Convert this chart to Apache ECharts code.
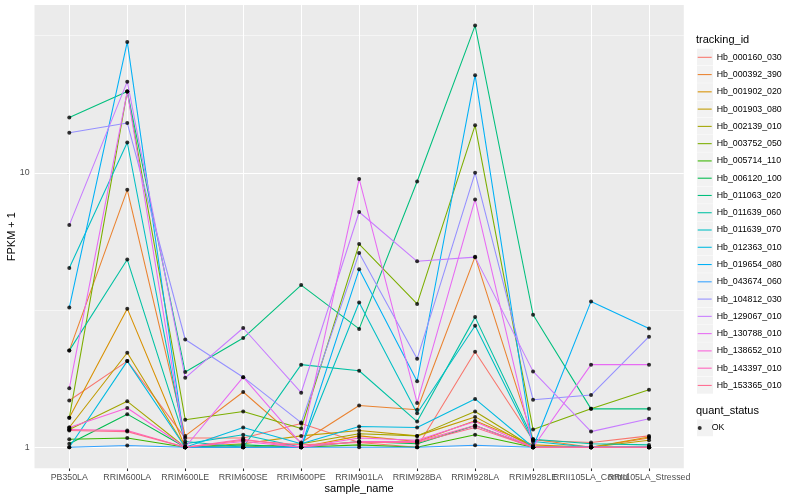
<!DOCTYPE html>
<html><head><meta charset="utf-8">
<script src="https://cdn.jsdelivr.net/npm/echarts@6.0.0/dist/echarts.min.js"></script>
<style>html,body{margin:0;padding:0;background:#fff}#c{width:800px;height:500px}</style>
</head><body><div id="c"></div><script>
const categories = ['PB350LA','RRIM600LA','RRIM600LE','RRIM600SE','RRIM600PE','RRIM901LA','RRIM928BA','RRIM928LA','RRIM928LE','RRII105LA_Control','RRII105LA_Stressed'];
const yTickValues = [1, 10];
const yTickLabels = ['1', '10'];

const hb_000160_030 = [1.48, 2.06, 1.08, 1.08, 1.22, 1.04, 1.0, 2.23, 1.06, 1.04, 1.10];
const hb_000392_390 = [2.25, 8.67, 1.10, 1.59, 1.04, 1.42, 1.37, 4.95, 1.07, 1.0, 1.08];
const hb_001902_020 = [1.28, 3.20, 1.0, 1.0, 1.0, 1.10, 1.05, 1.25, 1.02, 1.0, 1.09];
const hb_001903_080 = [1.18, 2.21, 1.0, 1.03, 1.10, 1.15, 1.10, 1.29, 1.0, 1.0, 1.06];
const hb_002139_010 = [1.16, 1.47, 1.0, 1.0, 1.03, 1.12, 1.10, 1.35, 1.0, 1.0, 1.0];
const hb_003752_050 = [1.28, 19.8, 1.26, 1.35, 1.17, 5.5, 3.33, 14.9, 1.16, 1.38, 1.62];
const hb_005714_110 = [1.07, 1.08, 1.0, 1.0, 1.0, 1.02, 1.0, 1.11, 1.0, 1.0, 1.0];
const hb_006120_100 = [1.03, 1.32, 1.0, 1.02, 1.0, 1.05, 1.03, 1.20, 1.0, 1.0, 1.0];
const hb_011063_020 = [15.9, 19.8, 1.88, 2.5, 3.9, 2.7, 9.3, 34.4, 3.04, 1.38, 1.38];
const hb_011639_060 = [2.25, 4.83, 1.05, 1.0, 2.0, 1.9, 1.24, 2.98, 1.07, 1.03, 1.02];
const hb_011639_070 = [4.5, 12.9, 1.03, 1.11, 1.0, 3.37, 1.33, 2.77, 1.05, 1.0, 1.0];
const hb_012363_010 = [1.0, 2.06, 1.0, 1.18, 1.03, 1.19, 1.18, 1.5, 1.0, 1.0, 1.0];
const hb_019654_080 = [3.23, 30.0, 1.0, 1.0, 1.0, 4.45, 1.74, 22.7, 1.0, 3.4, 2.71];
const hb_043674_060 = [1.0, 1.015, 1.0, 1.0, 1.0, 1.0, 1.0, 1.017, 1.0, 1.0, 1.0];
const hb_104812_030 = [14.0, 15.2, 2.47, 1.80, 1.23, 5.1, 2.10, 10.0, 1.49, 1.55, 2.53];
const hb_129067_010 = [6.45, 21.5, 1.79, 2.72, 1.58, 7.2, 4.76, 4.93, 1.89, 1.14, 1.27];
const hb_130788_010 = [1.64, 19.8, 1.0, 1.8, 1.03, 9.5, 1.45, 8.0, 1.0, 2.0, 2.0];
const hb_138652_010 = [1.18, 1.39, 1.0, 1.05, 1.0, 1.08, 1.06, 1.24, 1.0, 1.0, 1.0];
const hb_143397_010 = [1.16, 1.15, 1.0, 1.07, 1.0, 1.05, 1.05, 1.20, 1.0, 1.0, 1.0];
const hb_153365_010 = [1.15, 1.14, 1.0, 1.06, 1.02, 1.04, 1.04, 1.18, 1.0, 1.0, 1.0];

const trackingIds = ['Hb_000160_030','Hb_000392_390','Hb_001902_020','Hb_001903_080','Hb_002139_010','Hb_003752_050','Hb_005714_110','Hb_006120_100','Hb_011063_020','Hb_011639_060','Hb_011639_070','Hb_012363_010','Hb_019654_080','Hb_043674_060','Hb_104812_030','Hb_129067_010','Hb_130788_010','Hb_138652_010','Hb_143397_010','Hb_153365_010'];
const seriesValues = [hb_000160_030,hb_000392_390,hb_001902_020,hb_001903_080,hb_002139_010,hb_003752_050,hb_005714_110,hb_006120_100,hb_011063_020,hb_011639_060,hb_011639_070,hb_012363_010,hb_019654_080,hb_043674_060,hb_104812_030,hb_129067_010,hb_130788_010,hb_138652_010,hb_143397_010,hb_153365_010];
const colors = ['#F8766D','#EA8331','#D89000','#C09B00','#A3A500','#7CAE00','#39B600','#00BB4E','#00BF7D','#00C1A3','#00BFC4','#00BAE0','#00B0F6','#35A2FF','#9590FF','#C77CFF','#E76BF3','#FA62DB','#FF62BC','#FF6C91'];

const FONT = '"Liberation Sans", Arial, Helvetica, sans-serif';
const catIdx = categories.map((c, i) => i);
// labels that overlap their neighbours are split onto a second (overlaid) axis so none get hidden
const labelSetA = catIdx.filter(i => i !== 9);
const labelSetB = [9];
const chart = echarts.init(document.getElementById('c'), null, {renderer: 'canvas'});

const gridLines = catIdx.map(i => ({xAxis: i, lineStyle: {color: '#FFFFFF', width: 1.07, type: 'solid'}}))
  .concat(yTickValues.map(v => ({yAxis: v, lineStyle: {color: '#FFFFFF', width: 1.07, type: 'solid'}})))
  .concat([Math.sqrt(10), Math.sqrt(1000)].map(v => ({yAxis: v, lineStyle: {color: '#FFFFFF', width: 0.53, type: 'solid'}})));

const series = [{
  type: 'line', name: '_grid', data: [[0, 1]], symbol: 'none', lineStyle: {width: 0, opacity: 0}, silent: true, z: 1,
  markLine: {silent: true, symbol: 'none', z: 1, animation: false, label: {show: false}, data: gridLines}
}];
trackingIds.forEach((id, k) => {
  series.push({
    type: 'line', name: id, data: seriesValues[k].map((v, i) => [i, v]),
    showSymbol: false, symbol: 'none', silent: true, z: 2,
    lineStyle: {width: 1.07, color: colors[k]}, itemStyle: {color: colors[k]}
  });
});
const allPoints = [];
seriesValues.forEach(arr => arr.forEach((v, i) => allPoints.push([i, v])));
series.push({type: 'scatter', name: 'OK', data: allPoints, symbol: 'circle', symbolSize: 4, itemStyle: {color: '#000000'}, silent: true, z: 3});

const STEP = 17.27, L1TOP = 48.67, L2TOP = 419.4;
const keyBoxes = trackingIds.map((id, k) => ({type: 'rect', z: 0, shape: {x: 697, y: L1TOP + k * STEP, width: 16, height: STEP - 0.4}, style: {fill: '#F2F2F2'}}));
keyBoxes.push({type: 'rect', z: 0, shape: {x: 697, y: L2TOP, width: 16, height: STEP - 0.4}, style: {fill: '#F2F2F2'}});

const xLabelStyle = {color: '#4D4D4D', fontSize: 8.8, margin: 4.95, fontFamily: FONT, hideOverlap: false, showMinLabel: true, showMaxLabel: true,
  formatter: v => categories[Math.round(v)]};

chart.setOption({
  animation: false,
  grid: {left: 34.5, right: 116.2, top: 5, bottom: 31.7, show: true, backgroundColor: '#EBEBEB', borderWidth: 0, containLabel: false, outerBoundsMode: 'none'},
  xAxis: [{
    type: 'value', min: -0.6, max: 10.6, position: 'bottom',
    axisLine: {show: false},
    axisTick: {show: true, customValues: catIdx, length: 2.75, lineStyle: {color: '#333333', width: 1.07}},
    axisLabel: Object.assign({customValues: labelSetA}, xLabelStyle),
    splitLine: {show: false},
    name: 'sample_name', nameLocation: 'middle', nameGap: 15, nameMoveOverlap: false,
    nameTextStyle: {fontSize: 11, color: '#000000', fontFamily: FONT}
  }, {
    type: 'value', min: -0.6, max: 10.6, position: 'bottom', offset: 0,
    axisLine: {show: false},
    axisTick: {show: false},
    axisLabel: Object.assign({customValues: labelSetB}, xLabelStyle),
    splitLine: {show: false}
  }],
  yAxis: {
    type: 'log', logBase: 10, min: 0.838, max: 40.9,
    axisLine: {show: false},
    axisTick: {show: true, customValues: yTickValues, length: 2.75, lineStyle: {color: '#333333', width: 1.07}},
    axisLabel: {customValues: yTickValues, formatter: v => yTickLabels[yTickValues.indexOf(Math.round(v))] || String(v), color: '#4D4D4D', fontSize: 8.8, margin: 4.95, fontFamily: FONT, showMinLabel: true, showMaxLabel: true},
    splitLine: {show: false}, minorSplitLine: {show: false},
    name: 'FPKM + 1', nameLocation: 'middle', nameGap: 17, nameRotate: 90, nameMoveOverlap: false,
    nameTextStyle: {fontSize: 11, color: '#000000', fontFamily: FONT}
  },
  legend: [{
    data: trackingIds, orient: 'vertical', left: 697.7, top: L1TOP, itemWidth: 14, itemHeight: 1.07, icon: 'rect',
    itemGap: 0, padding: 0, selectedMode: false,
    textStyle: {fontSize: 8.8, color: '#000000', lineHeight: STEP, fontFamily: FONT}
  }, {
    data: ['OK'], orient: 'vertical', left: 697.7, top: L2TOP, itemWidth: 14, itemHeight: 4, icon: 'circle',
    itemGap: 0, padding: 0, selectedMode: false,
    textStyle: {fontSize: 8.8, color: '#000000', lineHeight: STEP, fontFamily: FONT}
  }],
  graphic: keyBoxes.concat([
    {type: 'text', z: 1, left: 696, top: 34, style: {text: 'tracking_id', fontSize: 11, fill: '#000000', fontFamily: FONT}},
    {type: 'text', z: 1, left: 696, top: 405, style: {text: 'quant_status', fontSize: 11, fill: '#000000', fontFamily: FONT}}
  ]),
  series: series
});
</script></body></html>
